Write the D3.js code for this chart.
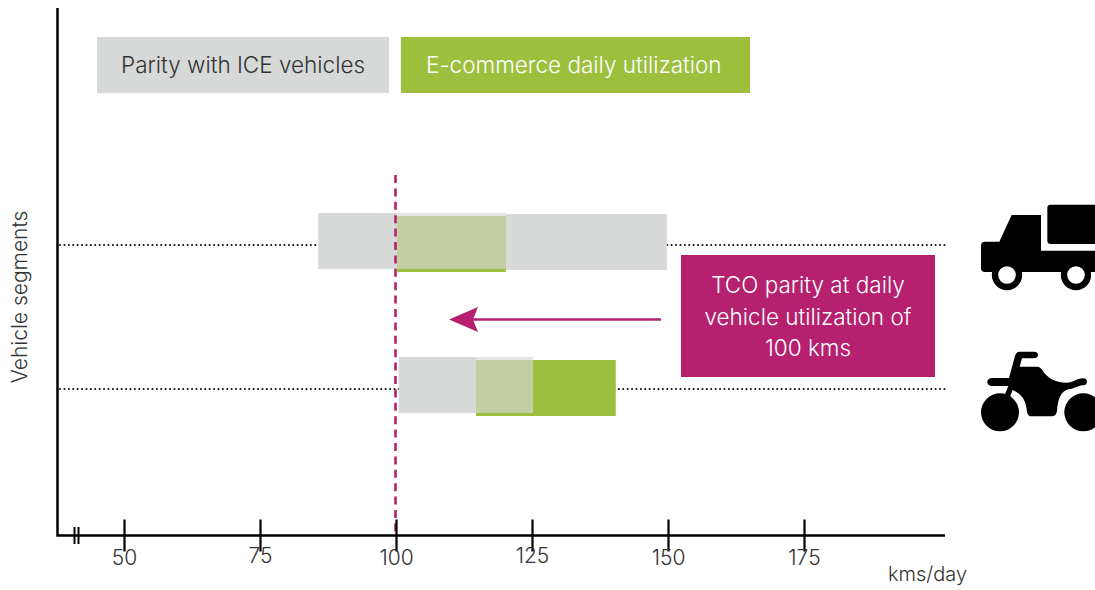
<!DOCTYPE html>
<html>
<head>
<meta charset="utf-8">
<script src="https://cdn.jsdelivr.net/npm/d3@7"></script>
<style>
html, body { margin: 0; padding: 0; background: #fff; overflow: hidden; }
svg { display: block; }
text { font-family: Inter, "Open Sans", sans-serif; font-weight: 300; fill: #333; }
</style>
</head>
<body>
<div id="chart"></div>
<script>
// values (kms/day)
const segments = ["truck", "motorcycle"];
const parityLow = [85.7, 100.5];
const parityHigh = [149.8, 125.2];
const ecomLow = [100.2, 114.7];
const ecomHigh = [120.2, 140.4];
const tickValues = [50, 75, 100, 125, 150, 175];
const parityLine = 100;
const legendLabels = ["Parity with ICE vehicles", "E-commerce daily utilization"];
const calloutLines = ["TCO parity at daily", "vehicle utilization of", "100 kms"];

const width = 1095, height = 590;
const grey = "#d7d9d8", green = "#9dbf3e", magenta = "#b5206f";

const svg = d3.select("#chart").append("svg")
    .attr("width", width)
    .attr("height", height);

const x = d3.scaleLinear().domain([50, 175]).range([124, 804]);
const y = d3.scalePoint().domain(segments).range([245, 389]);

const rows = segments.map((s, i) => ({
    seg: s,
    pLow: parityLow[i], pHigh: parityHigh[i],
    eLow: ecomLow[i], eHigh: ecomHigh[i]
}));

// dotted guide lines, behind the bars
svg.append("g").selectAll("line").data(segments).enter().append("line")
    .attr("x1", 60).attr("x2", 945)
    .attr("y1", d => y(d)).attr("y2", d => y(d))
    .attr("stroke", "#111")
    .attr("stroke-width", 2)
    .attr("stroke-linecap", "round")
    .attr("stroke-dasharray", "0.1 4.3");

// bars: grey is solid, the overlap with the green one is see-through
const barH = 56;
const bars = svg.append("g");
rows.forEach(r => {
    const top = y(r.seg) - 32;
    const greenTop = r.seg === "truck" ? y(r.seg) - 29 : y(r.seg) - 29;
    const overlapLow = Math.max(r.pLow, r.eLow), overlapHigh = Math.min(r.pHigh, r.eHigh);
    // part left of the overlap
    bars.append("rect")
        .attr("x", x(r.pLow)).attr("y", top)
        .attr("width", x(overlapLow) - x(r.pLow)).attr("height", barH)
        .attr("fill", grey);
    // part right of the overlap sits a pixel lower in the source
    if (r.pHigh > overlapHigh) {
        bars.append("rect")
            .attr("x", x(overlapHigh)).attr("y", top + 1)
            .attr("width", x(r.pHigh) - x(overlapHigh)).attr("height", barH)
            .attr("fill", grey);
    }
    bars.append("rect")
        .attr("x", x(r.eLow)).attr("y", greenTop)
        .attr("width", x(r.eHigh) - x(r.eLow)).attr("height", barH)
        .attr("fill", green);
    bars.append("rect")
        .attr("x", x(overlapLow)).attr("y", top)
        .attr("width", x(overlapHigh) - x(overlapLow)).attr("height", barH)
        .attr("fill", "#d5d6d5")
        .attr("fill-opacity", 0.67);
});

// parity marker
svg.append("line")
    .attr("x1", x(parityLine) - 0.5).attr("x2", x(parityLine) - 0.5)
    .attr("y1", 175).attr("y2", 536)
    .attr("stroke", magenta)
    .attr("stroke-width", 2.6)
    .attr("stroke-dasharray", "8 5.4");

// axes
const axis = d3.axisBottom(x).tickValues(tickValues).tickSize(16).tickSizeOuter(0).tickFormat(d3.format("d"));
const gx = svg.append("g").attr("transform", "translate(0,535.5)").call(axis);
gx.select(".domain").remove();
gx.selectAll(".tick line")
    .attr("y1", -16).attr("y2", 16)
    .attr("stroke", "#000").attr("stroke-width", 2.2);
gx.selectAll(".tick text")
    .attr("y", 29)
    .attr("dy", (d, i) => (i === 1 || i === 3) ? "-2" : "0")
    .style("font-size", "21px")
    .style("font-family", "Inter, sans-serif")
    .style("font-weight", 300)
    .attr("fill", "#333");

svg.append("path")
    .attr("d", "M57.5,8V535.5H945")
    .attr("fill", "none")
    .attr("stroke", "#000")
    .attr("stroke-width", 2.5);

// axis break
svg.append("g").selectAll("line").data([74.5, 78.5]).enter().append("line")
    .attr("x1", d => d).attr("x2", d => d)
    .attr("y1", 527).attr("y2", 544)
    .attr("stroke", "#000").attr("stroke-width", 2);

svg.append("text")
    .attr("x", 888).attr("y", 581)
    .style("font-size", "20px")
    .text("kms/day");

svg.append("text")
    .attr("transform", "translate(27,297) rotate(-90)")
    .attr("text-anchor", "middle")
    .style("font-size", "21px")
    .text("Vehicle segments");

// legend
const legendBoxes = [[97, 292, grey, "#333"], [401, 349, green, "#fff"]];
legendLabels.forEach((t, i) => {
    const b = legendBoxes[i];
    svg.append("rect")
        .attr("x", b[0]).attr("y", 37).attr("width", b[1]).attr("height", 56)
        .attr("fill", b[2]);
    svg.append("text")
        .attr("x", b[0] + (i ? 25 : 24)).attr("y", 73)
        .style("font-size", "22.5px")
        .style("fill", b[3])
        .text(t);
});

// callout
svg.append("rect")
    .attr("x", 681).attr("y", 255).attr("width", 254).attr("height", 122)
    .attr("fill", magenta);
svg.append("g").selectAll("text").data(calloutLines).enter().append("text")
    .attr("x", 808)
    .attr("y", (d, i) => 293 + i * 31.5)
    .attr("text-anchor", "middle")
    .style("font-size", "22.5px")
    .style("fill", "#fff")
    .text(d => d);

// arrow
svg.append("line")
    .attr("x1", 661).attr("x2", 470)
    .attr("y1", 319.5).attr("y2", 319.5)
    .attr("stroke", magenta).attr("stroke-width", 2.6);
svg.append("path")
    .attr("d", "M449,319.5L478,307L473,319.5L478,332Z")
    .attr("fill", magenta);

// truck icon, traced in 3x crop coordinates
const truck = svg.append("g").attr("transform", "translate(960,190) scale(0.3333)");
truck.append("path")
    .attr("d", "M272,44H420V162H272Q262,162 262,152V54Q262,44 272,44Z")
    .attr("fill", "#000");
truck.append("path")
    .attr("d", "M155,75H243V182H420V246H75Q63,246 63,234V167Q63,155 75,155H118Z")
    .attr("fill", "#000");
truck.selectAll("circle").data([141, 348]).enter().append("circle")
    .attr("cx", d => d).attr("cy", 255).attr("r", 36)
    .attr("fill", "#fff").attr("stroke", "#000").attr("stroke-width", 19);

// motorcycle icon
const moto = svg.append("g").attr("transform", "translate(960,340) scale(0.3333)");
moto.selectAll("circle").data([120, 370]).enter().append("circle")
    .attr("cx", d => d).attr("cy", 217).attr("r", 57)
    .attr("fill", "#000");
moto.append("path")
    .attr("d", "M178,35H222Q234,36 234,45Q234,54 222,55H186L179,80H232Q242,80 250,95C262,112 285,128 320,128C340,128 350,115 370,115Q381,116 381,125Q381,134 370,136C350,138 345,146 325,148C305,154 294,172 291,212Q289,229 275,229H215Q203,229 201,215C198,185 190,165 158,150L150,170L134,165L145,138H95Q82,136 82,126Q82,116 95,114H147L165,48Q168,36 178,35Z")
    .attr("fill", "#000");
</script>
</body>
</html>
